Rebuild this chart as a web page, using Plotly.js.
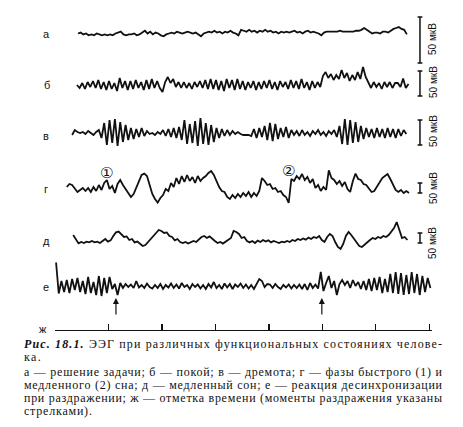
<!DOCTYPE html>
<html>
<head>
<meta charset="utf-8">
<script src="https://cdn.plot.ly/plotly-3.0.1.min.js"></script>
<style>
html,body{margin:0;padding:0;background:#fff;}
#chart{width:463px;height:427px;}
</style>
</head>
<body>
<div id="chart"></div>
<script>
// ---------------- DATA ----------------
const channelLabels = ['а', 'б', 'в', 'г', 'д', 'е'];
const timeLabel = 'ж';
const sampleStep = 0.05;                 // s between samples
const traceStart = [0.43, 0.41, 0.32, 0.22, 0.34, 0.02]; // s
const scaleBarUV = 50;                   // µV
const scaleBarText = '50 мкВ';
const stimulusTimes = [1.14, 4.99];      // s (arrows)
const timeMarks = [0, 1, 2, 3, 4, 5, 6, 7]; // s
const phaseLabels = ['①', '②'];
const phaseTimes = [0.97, 4.37];

// а — решение задачи (µV)
const eegA = [0,1,-1,0,-2,-1,-2,0,-1,-2,
  -1,-2,-1,-2,0,1,2,-1,-2,-1,
  -1,0,-2,-1,1,3,0,2,-1,1,
  0,-2,-3,-1,0,1,0,2,1,0,
  1,2,1,0,1,-1,-3,0,1,2,
  1,3,1,2,0,2,1,3,1,0,
  -2,4,3,2,4,2,3,1,3,2,
  4,2,3,1,2,0,2,1,2,1,
  2,3,1,2,0,2,3,1,2,1,
  0,-2,1,2,2,2,2,2,3,2,
  2,2,2,2,3,3,4,6,4,2,
  0,1,1,0,2,2,1,3,5,6,
  7,5,4,-1];
// б — покой
const eegB = [0,-6,4,-8,6,-4,8,-6,10,-8,
  6,-10,8,-8,4,-12,14,-6,8,-10,
  8,-8,10,-6,6,-10,10,-8,12,-6,
  8,-6,-14,6,16,4,12,-4,6,-6,
  6,-6,4,-8,6,-4,8,-6,10,-8,
  12,-8,10,-10,8,-12,12,-6,10,-10,
  12,-8,8,-10,6,-6,8,-10,6,-8,
  8,-6,10,-8,6,-10,8,-4,6,-8,
  10,-6,8,-8,12,-6,6,-10,8,-6,
  6,-4,18,26,14,22,10,20,12,30,
  14,24,8,20,10,26,12,36,16,4,
  -6,6,-4,4,-8,6,-4,6,-6,4,
  4,-4,13,-6,2];
// в — дремота
const eegV = [-4,6,2,0,2,-2,4,0,-4,2,
  6,-10,20,-24,26,-20,28,-26,22,-18,
  16,-14,10,-12,8,-8,10,-6,4,-2,
  0,-4,2,-2,6,-6,8,-8,10,-10,
  12,-14,26,-22,18,-20,24,-26,30,-22,
  20,-24,16,-18,10,-10,8,-6,6,-4,
  4,-2,2,-2,-4,-4,-4,-6,8,-10,
  10,-8,14,-14,20,-16,18,-12,10,-8,
  12,-10,6,-4,4,-6,6,-4,2,-6,
  4,-2,6,-4,2,-6,4,-2,6,-8,
  14,-22,28,-24,26,-20,22,-18,14,-12,
  10,-8,8,-10,10,-8,8,-10,10,-8,
  8,-10,8,-6,6,-2];
// г — фазы быстрого (1) и медленного (2) сна
const eegG = [0,15,10,-10,-25,-15,-5,-20,-5,-25,
  0,-20,10,-15,20,35,-10,5,-30,15,
  35,10,-10,-30,-50,-35,0,30,60,67,
  55,10,-35,-60,-78,-55,-40,-10,-20,20,
  0,45,15,55,25,60,30,50,20,55,
  30,45,55,70,80,60,30,0,-20,-25,
  -50,-60,-40,-55,-35,-50,-30,-45,-25,-50,
  -30,-45,-20,45,30,10,15,-10,-5,-25,
  -20,-40,-50,-80,40,30,55,40,65,35,
  50,20,40,-5,10,-20,0,-15,83,45,
  35,15,30,5,25,-10,-25,30,67,40,
  35,15,10,-10,-25,-20,0,25,45,55,
  65,40,10,-15,-25,-15,-30,-20,-30];
// д — медленный сон
const eegD = [25,0,-17,-10,-15,-8,-12,-5,-12,-8,
  -15,-5,5,-8,-2,20,38,42,30,15,
  18,0,5,-12,-8,-20,-30,-25,-10,5,
  20,35,50,45,35,38,20,15,-2,5,
  -10,-15,-10,-18,-12,-5,-10,5,15,20,
  10,18,5,-5,-15,-10,-18,-8,0,10,
  45,40,30,10,15,-5,-12,-5,-15,-3,
  -10,0,-8,-2,-12,-5,-10,-15,-8,-12,
  -5,-10,0,-5,5,0,8,2,12,5,
  15,10,20,0,-10,15,30,20,-10,-35,
  -45,-20,20,40,25,5,-15,-30,-35,-22,
  -10,0,10,5,15,10,20,15,25,40,
  60,90,50,10,15,0];
// е — реакция десинхронизации
const eegE = [47,-15,10,-12,12,-14,14,-8,16,-12,
  10,-16,18,-14,8,-18,20,-20,16,-14,
  18,-6,4,-18,6,-4,4,-2,3,-4,
  10,-3,2,-4,5,-2,-5,2,-4,4,
  -6,2,-3,5,-4,3,-5,6,-2,2,
  -6,4,-2,3,-5,2,-6,4,-3,8,
  -4,2,-6,5,-3,4,-6,3,-2,5,
  -4,3,-5,2,-6,4,14,10,-2,4,
  3,-4,4,-2,-6,2,-3,3,-5,2,
  -4,3,-6,4,-8,6,-4,3,-5,28,
  -10,6,20,-4,10,-18,4,12,2,10,
  -4,12,0,8,-6,10,-8,14,-10,16,
  -8,18,-14,14,-12,24,-14,28,-16,26,
  -18,22,-16,28,-14,24,-18,20,-12,16,
  -4];
const eegSeries = [eegA, eegB, eegV, eegG, eegD, eegE];

const captionLines = [
  '<b><i>Рис. 18.1.</i></b> ЭЭГ при различных функциональных состояниях челове-',
  'ка.',
  'а — решение задачи; б — покой; в — дремота; г — фазы быстрого (1) и',
  'медленного (2) сна; д — медленный сон; е — реакция десинхронизации',
  'при раздражении; ж — отметка времени (моменты раздражения указаны',
  'стрелками).'
];

// ---------------- LAYOUT (positions / styles) ----------------
const W = 463, H = 427;
const P = (px, py) => ({x: px / W, y: 1 - py / H});
const xDomPx = [55, 432];
const xRange = [0, 7.05];
const chan = [
  {base: 33.5, gain: 0.92, barBottom: 63, labelY: 34, textY: 39},
  {base: 85,   gain: 0.5,  barBottom: 96, labelY: 85, textY: 82},
  {base: 133,  gain: 0.5,  barBottom: 145, labelY: 136, textY: 131},
  {base: 187,  gain: 0.2,  barBottom: 193, labelY: 189, textY: 188},
  {base: 240,  gain: 0.2,  barBottom: 243, labelY: 241, textY: 243},
  {base: 286,  gain: 0.5,  barBottom: null, labelY: 287, textY: null}
];
const barT = 6.825, serif = 0.045;
const ink = '#111';
const lineW = 1.8;
const sans = 'Liberation Sans, Arial, sans-serif';

const traces = [];
const layout = {
  width: W, height: H,
  margin: {l: 0, r: 0, t: 0, b: 0},
  paper_bgcolor: '#fff', plot_bgcolor: 'rgba(0,0,0,0)',
  showlegend: false,
  xaxis: {
    domain: [xDomPx[0] / W, xDomPx[1] / W], range: xRange,
    anchor: 'free', position: 1 - 330 / H,
    showline: true, linecolor: ink, linewidth: 1.3,
    tickmode: 'array', tickvals: timeMarks, ticks: 'inside', ticklen: 6,
    tickwidth: 1.2, tickcolor: ink, showticklabels: false,
    showgrid: false, zeroline: false, fixedrange: true
  },
  annotations: [],
  font: {family: sans, color: ink}
};

eegSeries.forEach((vals, k) => {
  const c = chan[k];
  const yName = k === 0 ? 'yaxis' : 'yaxis' + (k + 1);
  const yRef = k === 0 ? 'y' : 'y' + (k + 1);
  layout[yName] = {
    domain: [0, 1], range: [-(H - c.base) / c.gain, c.base / c.gain],
    visible: false, fixedrange: true, showgrid: false, zeroline: false
  };
  if (k > 0) layout[yName].overlaying = 'y';
  const t = vals.map((_, i) => traceStart[k] + i * sampleStep);
  traces.push({
    x: t, y: vals, xaxis: 'x', yaxis: yRef, type: 'scatter', mode: 'lines',
    line: {color: ink, width: lineW}, hoverinfo: 'skip'
  });
  if (c.barBottom !== null) {
    const y0 = (c.base - c.barBottom) / c.gain, y1 = y0 + scaleBarUV;
    traces.push({
      x: [barT, barT, null, barT - serif, barT + serif, null, barT - serif, barT + serif],
      y: [y0, y1, null, y0, y0, null, y1, y1],
      xaxis: 'x', yaxis: yRef, type: 'scatter', mode: 'lines',
      line: {color: ink, width: 1.5}, hoverinfo: 'skip'
    });
    const p = P(433, c.textY);
    layout.annotations.push({
      xref: 'paper', yref: 'paper', x: p.x, y: p.y, text: scaleBarText,
      showarrow: false, textangle: -90, xanchor: 'center', yanchor: 'middle',
      font: {size: 10, family: sans, color: ink}
    });
  }
  const lp = P(k === 1 ? 47 : 46, c.labelY);
  layout.annotations.push({
    xref: 'paper', yref: 'paper', x: lp.x, y: lp.y, text: channelLabels[k],
    showarrow: false, xanchor: 'center', yanchor: 'middle',
    font: {size: 11, family: sans, color: ink}
  });
});

const jp = P(43, 329);
layout.annotations.push({
  xref: 'paper', yref: 'paper', x: jp.x, y: jp.y, text: timeLabel,
  showarrow: false, xanchor: 'center', yanchor: 'middle',
  font: {size: 11, family: sans, color: ink}
});

stimulusTimes.forEach(ts => {
  layout.annotations.push({
    xref: 'x', yref: 'paper', x: ts, y: 1 - 298 / H, text: '',
    showarrow: true, ax: 0, ay: 18, arrowhead: 2, arrowsize: 1,
    arrowwidth: 1.2, arrowcolor: ink
  });
});

const phaseY = [173, 171];
phaseLabels.forEach((lab, i) => {
  layout.annotations.push({
    xref: 'x', yref: 'paper', x: phaseTimes[i], y: 1 - phaseY[i] / H, text: lab,
    showarrow: false, xanchor: 'center', yanchor: 'middle',
    font: {size: 15, family: 'DejaVu Sans, sans-serif', color: ink}
  });
});

// caption (justified to the block width afterwards)
const capY = [344, 357, 372, 385, 398, 411];
const capJustify = [true, false, true, true, true, false];
const capIdx = [];
captionLines.forEach((txt, i) => {
  const p = P(22, capY[i]);
  capIdx.push(layout.annotations.length);
  layout.annotations.push({
    xref: 'paper', yref: 'paper', x: p.x, y: p.y, text: txt,
    showarrow: false, xanchor: 'left', yanchor: 'middle', align: 'left',
    font: {size: 12, family: 'Liberation Serif, Times New Roman, serif', color: ink}
  });
});

Plotly.newPlot('chart', traces, layout, {staticPlot: true, displayModeBar: false}).then(gd => {
  const blockW = 418;
  const nodes = capIdx.map(ix => gd.querySelector('.annotation[data-index="' + ix + '"] text.annotation-text'));
  const natural = nodes.map(n => n ? n.getComputedTextLength() : 0);
  const ratio = [];
  nodes.forEach((n, i) => { if (capJustify[i] && natural[i]) ratio[i] = blockW / natural[i]; });
  const r1 = ratio[0] || 1;
  const r2 = ((ratio[2] || 1) + (ratio[3] || 1) + (ratio[4] || 1)) / 3;
  nodes.forEach((n, i) => {
    if (!n) return;
    let target;
    if (capJustify[i]) target = blockW;
    else target = natural[i] * (i === 1 ? r1 : r2);
    n.setAttribute('textLength', target.toFixed(1));
    n.setAttribute('lengthAdjust', 'spacing');
  });
});
</script>
</body>
</html>
